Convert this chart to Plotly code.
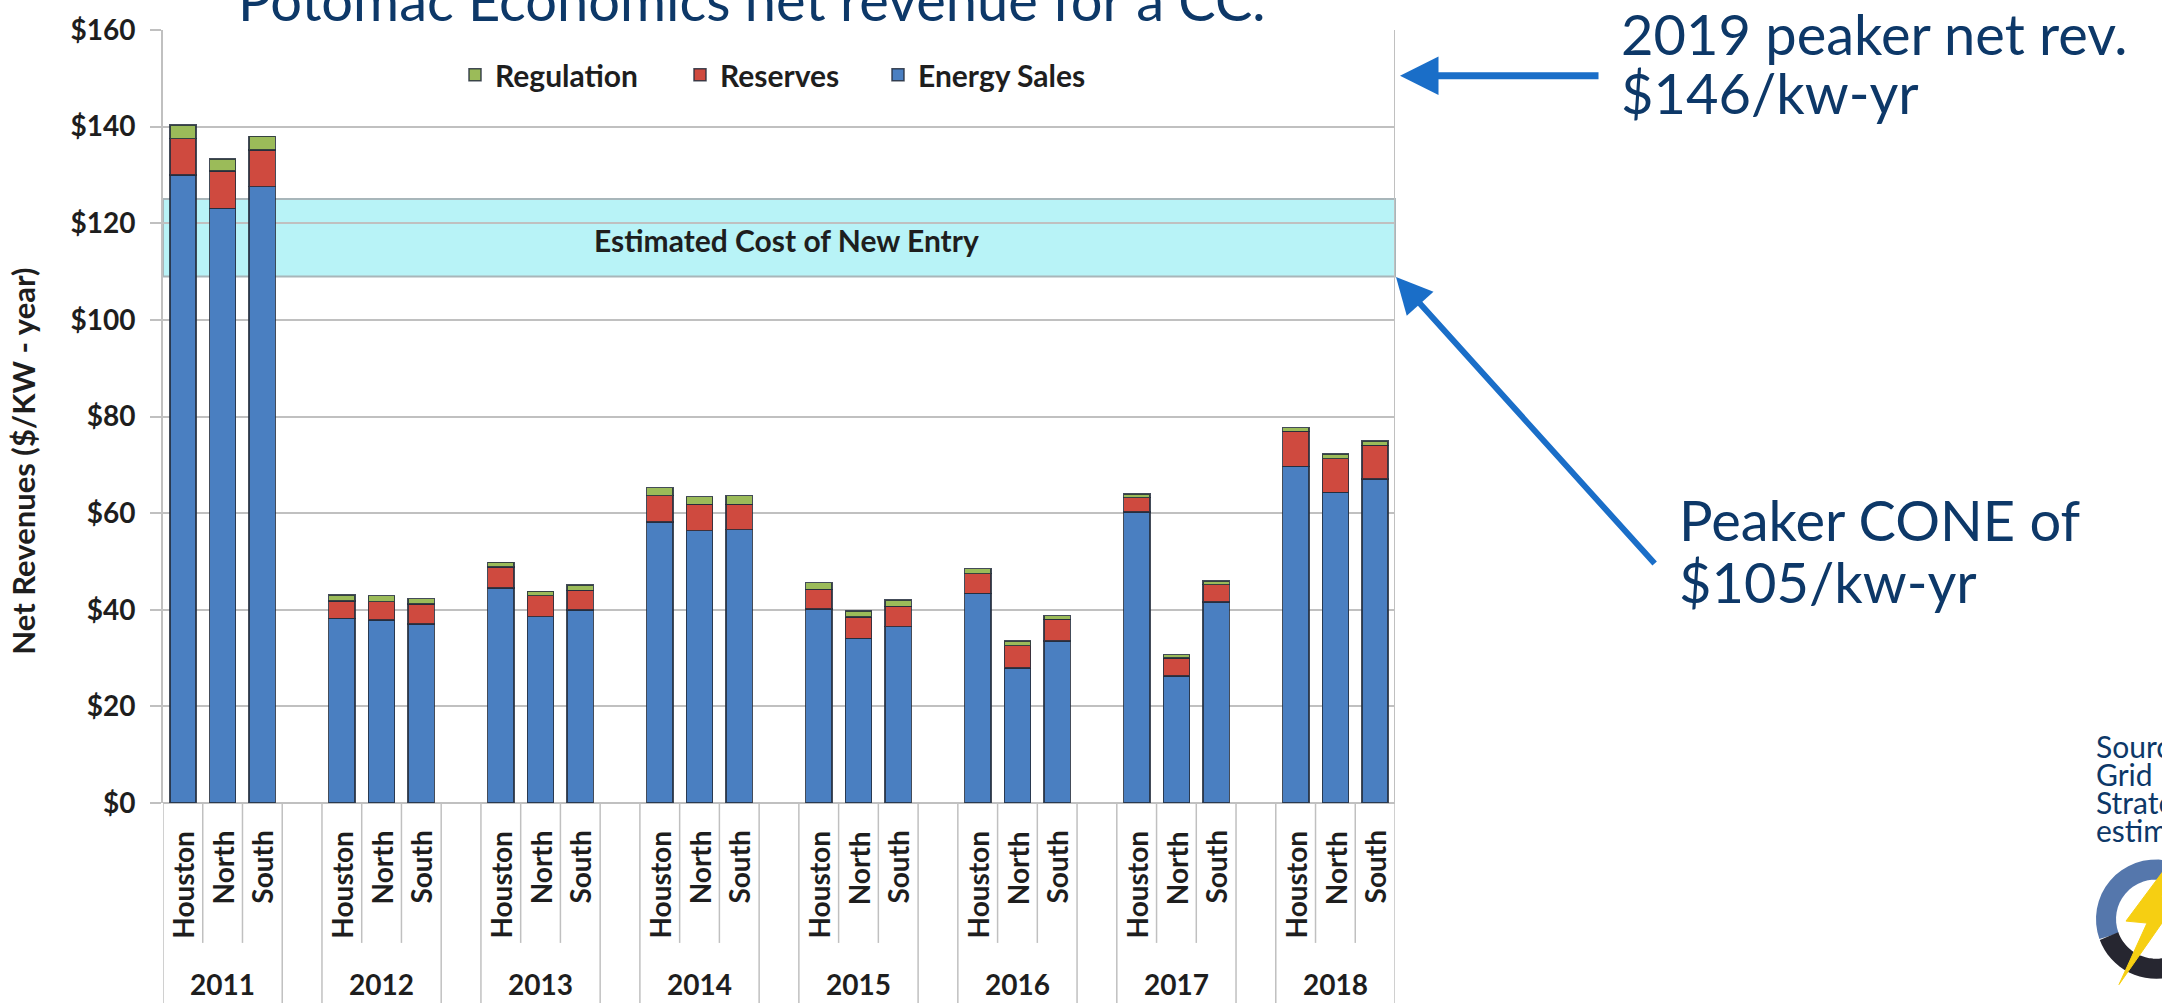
import math
import plotly.graph_objects as go

# ---------------- data ----------------
years = ["2011", "2012", "2013", "2014", "2015", "2016", "2017", "2018"]
cities = ["Houston", "North", "South"]

energy_sales = [130.0, 123.1, 127.6,
                38.2, 37.9, 37.1,
                44.5, 38.6, 40.0,
                58.2, 56.4, 56.6,
                40.2, 34.1, 36.5,
                43.4, 27.9, 33.5,
                60.2, 26.3, 41.6,
                69.7, 64.3, 67.1]
reserves = [7.5, 7.7, 7.6,
            3.6, 3.8, 4.1,
            4.3, 4.3, 4.0,
            5.4, 5.4, 5.2,
            4.0, 4.4, 4.2,
            4.1, 4.7, 4.5,
            3.0, 3.7, 3.6,
            7.2, 7.0, 6.9]
regulation = [2.8, 2.5, 2.8,
              1.3, 1.2, 1.1,
              1.0, 0.9, 1.1,
              1.7, 1.6, 1.8,
              1.4, 1.2, 1.3,
              1.0, 0.9, 0.8,
              0.8, 0.7, 0.8,
              0.8, 0.9, 0.9]
y_ticks = [0, 20, 40, 60, 80, 100, 120, 140, 160]
y_tick_labels = ["$0", "$20", "$40", "$60", "$80", "$100", "$120", "$140", "$160"]
cone_band = [109, 125]

title_text = "Potomac Economics net revenue for a CC."
note1 = ["2019 peaker net rev.", "$146/kw-yr"]
note2 = ["Peaker CONE of", "$105/kw-yr"]
source_lines = ["Source:", "Grid", "Strategies", "estimate"]

# ---------------- layout geometry (pixels) ----------------
W, H = 2162, 1003
PL, PR, PT, PB = 163, 1395, 24, 803


def px(x):
    return (x - PL) / (PR - PL)


def py(y):
    return (PB - y) / (PB - PT)


SLOTS = 4  # 3 cities + 1 blank slot between years
xpos = [g * SLOTS + c for g in range(len(years)) for c in range(len(cities))]
xmax = (len(years) - 1) * SLOTS + len(cities) - 1

BLUE = "#4A7FC1"
RED = "#CF4A3F"
GREEN = "#9BBB59"
EDGE = "rgba(35,45,60,0.85)"
NAVY = "#0D3868"
ARROW = "#1A6EC8"
GRID = "#C0C0C0"
TXT = "#1E1E1E"
CHART_FONT = "Lato"
BW = 0.66

fig = go.Figure()
fig.add_trace(go.Bar(x=xpos, y=energy_sales, name="Energy Sales", legend="legend3",
                     marker=dict(color=BLUE, line=dict(color=EDGE, width=1.5)), width=BW))
fig.add_trace(go.Bar(x=xpos, y=reserves, name="Reserves", legend="legend2",
                     marker=dict(color=RED, line=dict(color=EDGE, width=1.5)), width=BW))
fig.add_trace(go.Bar(x=xpos, y=regulation, name="Regulation", legend="legend",
                     marker=dict(color=GREEN, line=dict(color=EDGE, width=1.5)), width=BW))

shapes = []
# cost of new entry band
shapes.append(dict(type="rect", xref="paper", yref="y", x0=0, x1=1,
                   y0=cone_band[0], y1=cone_band[1], layer="below",
                   fillcolor="#B8F3F7", line=dict(color="#A8B6BA", width=2)))
# right frame line
shapes.append(dict(type="line", xref="x", yref="paper", x0=xmax + 0.5, x1=xmax + 0.5,
                   y0=0, y1=1, line=dict(color=GRID, width=2)))
# category separators below axis
for g in range(len(years)):
    left = g * SLOTS - 0.5
    right = g * SLOTS + len(cities) - 0.5
    for xb in (left, right):
        shapes.append(dict(type="line", xref="x", yref="paper", x0=xb, x1=xb,
                           y0=0, y1=py(H + 5), line=dict(color=GRID, width=1.5)))
    for c in range(1, len(cities)):
        xb = g * SLOTS + c - 0.5
        shapes.append(dict(type="line", xref="x", yref="paper", x0=xb, x1=xb,
                           y0=0, y1=py(944), line=dict(color=GRID, width=1.5)))

# logo (ring + lightning bolt), partly cut off at the right edge
cx, cy, r = 2156, 920, 50


def arc(a0, a1, n=24):
    pts = []
    for i in range(n + 1):
        a = math.radians(a0 + (a1 - a0) * i / n)
        pts.append((cx + r * math.cos(a), cy - r * math.sin(a)))
    return "M " + " L ".join(f"{px(a):.5f},{py(b):.5f}" for a, b in pts)


shapes.append(dict(type="path", xref="paper", yref="paper", path=arc(20, 200),
                   line=dict(color="#5577AC", width=20)))
shapes.append(dict(type="path", xref="paper", yref="paper", path=arc(200, 330),
                   line=dict(color="#262630", width=20)))
bolt = [(2188, 838), (2126, 922), (2147, 924), (2119, 986), (2182, 895), (2161, 897), (2204, 838)]
path = "M " + " L ".join(f"{px(a):.5f},{py(b):.5f}" for a, b in bolt) + " Z"
shapes.append(dict(type="path", xref="paper", yref="paper", path=path,
                   fillcolor="#F6CF12", line=dict(color="#F6CF12", width=1)))

annotations = []
# city labels (rotated) and year labels
for i, xv in enumerate(xpos):
    annotations.append(dict(x=xv, y=py(829), xref="x", yref="paper", text=cities[i % 3],
                            showarrow=False, textangle=-90, xanchor="center", yanchor="top",
                            font=dict(family=CHART_FONT, size=28, color=TXT, weight="bold")))
for g, yr in enumerate(years):
    annotations.append(dict(x=g * SLOTS + 1, y=py(985), xref="x", yref="paper", text=yr,
                            showarrow=False, xanchor="center", yanchor="middle",
                            font=dict(family=CHART_FONT, size=28, color=TXT, weight="bold")))
# y-axis title
annotations.append(dict(x=px(23), y=py(459), xref="paper", yref="paper",
                        text="Net Revenues ($/KW - year)", showarrow=False, textangle=-90,
                        xanchor="center", yanchor="middle",
                        font=dict(family=CHART_FONT, size=31, color=TXT, weight="bold")))
# band label
annotations.append(dict(x=px(786), y=116.6, xref="paper", yref="y",
                        text="Estimated Cost of New Entry", showarrow=False,
                        xanchor="center", yanchor="middle",
                        font=dict(family=CHART_FONT, size=30, color=TXT, weight="bold")))
# title (clipped at top)
annotations.append(dict(x=px(752), y=py(29), xref="paper", yref="paper", text=title_text,
                        showarrow=False, xanchor="center", yanchor="bottom",
                        font=dict(family=CHART_FONT, size=56, color=NAVY)))
# right-hand notes
for k, line in enumerate(note1):
    annotations.append(dict(x=px(1619), y=py(63 + 60 * k), xref="paper", yref="paper", text=line,
                            showarrow=False, xanchor="left", yanchor="bottom",
                            font=dict(family=CHART_FONT, size=56, color=NAVY)))
for k, line in enumerate(note2):
    annotations.append(dict(x=px(1677), y=py(553 + 63 * k), xref="paper", yref="paper", text=line,
                            showarrow=False, xanchor="left", yanchor="bottom",
                            font=dict(family=CHART_FONT, size=56, color=NAVY)))
for k, line in enumerate(source_lines):
    annotations.append(dict(x=px(2094), y=py(766 + 28 * k), xref="paper", yref="paper", text=line,
                            showarrow=False, xanchor="left", yanchor="bottom",
                            font=dict(family=CHART_FONT, size=30, color=NAVY)))
# arrows
annotations.append(dict(x=px(1400), y=py(70), xref="paper", yref="paper", text="",
                        showarrow=True, ax=200, ay=0, arrowhead=2, arrowsize=1.1,
                        arrowwidth=7, arrowcolor=ARROW, standoff=0))
annotations.append(dict(x=px(1396), y=py(273), xref="paper", yref="paper", text="",
                        showarrow=True, ax=260, ay=288, arrowhead=2, arrowsize=1.2,
                        arrowwidth=6, arrowcolor=ARROW, standoff=0))

legend_font = dict(family=CHART_FONT, size=30, color=TXT, weight="bold")
legend_common = dict(orientation="h", xanchor="left", yanchor="top",
                     bgcolor="rgba(0,0,0,0)", font=legend_font)

fig.update_layout(
    width=W, height=H,
    margin=dict(l=PL, r=W - PR, t=PT, b=H - PB, pad=0),
    paper_bgcolor="white", plot_bgcolor="white",
    barmode="stack",
    showlegend=True,
    legend=dict(x=px(455), y=py(43), **legend_common),
    legend2=dict(x=px(680), y=py(43), **legend_common),
    legend3=dict(x=px(878), y=py(43), **legend_common),
    xaxis=dict(range=[-0.5, xmax + 0.5], showticklabels=False, showgrid=False,
               zeroline=False, showline=False, ticks=""),
    yaxis=dict(range=[0, 160], tickvals=y_ticks, ticktext=y_tick_labels, showgrid=True,
               gridcolor=GRID, gridwidth=2, zeroline=True, zerolinecolor=GRID, zerolinewidth=2,
               showline=True, linecolor=GRID, linewidth=2, ticks="outside", ticklen=11,
               tickcolor=GRID, tickwidth=2, ticklabelstandoff=9,
               tickfont=dict(family=CHART_FONT, size=28, color=TXT, weight="bold")),
    shapes=shapes,
    annotations=annotations,
    bargap=0.3,
)

fig.write_html("out.html", config={"displayModeBar": False},
               post_script="document.body.style.margin='0px';document.body.style.overflow='hidden';")
